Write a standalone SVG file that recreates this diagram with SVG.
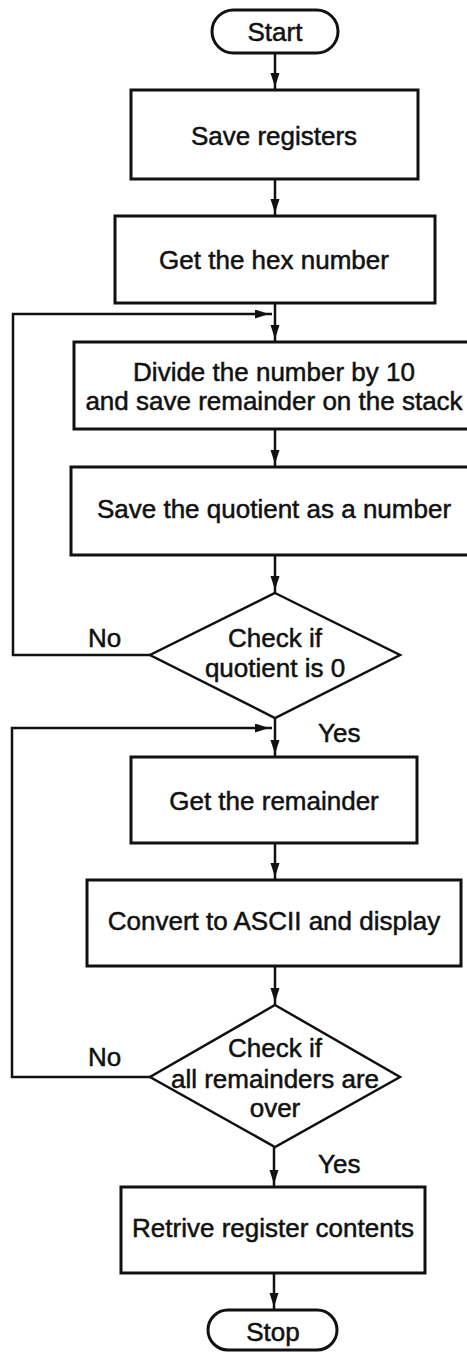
<svg xmlns="http://www.w3.org/2000/svg" width="467" height="1352" viewBox="0 0 467 1352">
<style>
.box{fill:#fff;stroke:#111;stroke-width:3}
.dia{fill:#fff;stroke:#111;stroke-width:2.5}
.ln{fill:none;stroke:#111;stroke-width:2.5}
text{font-family:"Liberation Sans",Arial,sans-serif;font-size:26px;fill:#111;stroke:#111;stroke-width:0.5;text-anchor:middle}
.lbl{text-anchor:start}
</style>
<defs>
<marker id="ah" markerUnits="userSpaceOnUse" markerWidth="20" markerHeight="10" refX="17" refY="4.5" orient="auto">
<path d="M0,0 L14,4.5 L0,9 Z" fill="#111"/>
</marker>
</defs>
<rect width="467" height="1352" fill="#fff"/>
<g id="connectors">
<line class="ln" x1="275" y1="53" x2="275" y2="90" marker-end="url(#ah)"/>
<line class="ln" x1="275" y1="179" x2="275" y2="216" marker-end="url(#ah)"/>
<line class="ln" x1="275" y1="303" x2="275" y2="342" marker-end="url(#ah)"/>
<line class="ln" x1="275" y1="429" x2="275" y2="467" marker-end="url(#ah)"/>
<line class="ln" x1="275" y1="555" x2="275" y2="593" marker-end="url(#ah)"/>
<polyline class="ln" points="150,655 13,655 13,314 272,314" marker-end="url(#ah)"/>
<line class="ln" x1="275" y1="718" x2="275" y2="757" marker-end="url(#ah)"/>
<polyline class="ln" points="150,1077 12,1077 12,728 272,728" marker-end="url(#ah)"/>
<line class="ln" x1="275" y1="843" x2="275" y2="880" marker-end="url(#ah)"/>
<line class="ln" x1="275" y1="966" x2="275" y2="1005" marker-end="url(#ah)"/>
<line class="ln" x1="274" y1="1147" x2="274" y2="1187" marker-end="url(#ah)"/>
<line class="ln" x1="274" y1="1273" x2="274" y2="1310" marker-end="url(#ah)"/>
<text class="lbl" x="88" y="647">No</text>
<text class="lbl" x="318" y="742">Yes</text>
<text class="lbl" x="88" y="1066">No</text>
<text class="lbl" x="318" y="1173">Yes</text>
</g>
<g id="start">
<rect class="box" x="212" y="10" width="126" height="43" rx="21.5"/>
<text x="275" y="41">Start</text>
</g>
<g id="save-registers">
<rect class="box" x="131" y="90" width="287" height="89"/>
<text x="274" y="145">Save registers</text>
</g>
<g id="get-hex">
<rect class="box" x="115" y="216" width="320" height="87"/>
<text x="274" y="269">Get the hex number</text>
</g>
<g id="divide">
<rect class="box" x="74" y="342" width="400" height="87"/>
<text x="274" y="381">Divide the number by 10</text>
<text x="274" y="410">and save remainder on the stack</text>
</g>
<g id="save-quotient">
<rect class="box" x="71" y="467" width="403" height="88"/>
<text x="274" y="518">Save the quotient as a number</text>
</g>
<g id="check-quotient">
<polygon class="dia" points="275,593 400,655 275,718 150,655"/>
<text x="275" y="647">Check if</text>
<text x="275" y="677">quotient is 0</text>
</g>
<g id="get-remainder">
<rect class="box" x="131" y="757" width="286" height="86"/>
<text x="274" y="810">Get the remainder</text>
</g>
<g id="convert">
<rect class="box" x="87" y="880" width="374" height="86"/>
<text x="274" y="930">Convert to ASCII and display</text>
</g>
<g id="check-remainders">
<polygon class="dia" points="275,1005 400,1077 275,1147 150,1077"/>
<text x="275" y="1057">Check if</text>
<text x="275" y="1088">all remainders are</text>
<text x="275" y="1117">over</text>
</g>
<g id="retrieve">
<rect class="box" x="121" y="1187" width="304" height="86"/>
<text x="273" y="1237">Retrive register contents</text>
</g>
<g id="stop">
<rect class="box" x="208" y="1310" width="129" height="40" rx="20"/>
<text x="273" y="1341">Stop</text>
</g>
</svg>
